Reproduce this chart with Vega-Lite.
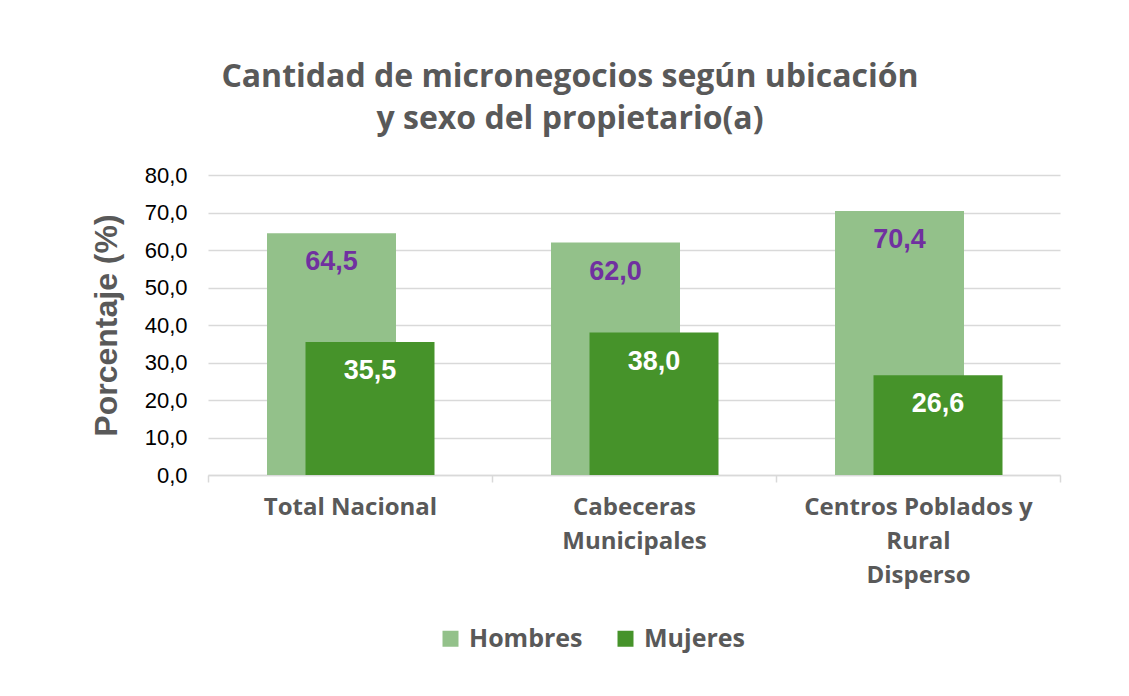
{
  "$schema": "https://vega.github.io/schema/vega-lite/v6.json",
  "width": 852,
  "height": 300,
  "autosize": {"type": "none"},
  "padding": {"left": 208, "top": 175, "right": 69, "bottom": 221},
  "background": "white",
  "title": {
    "text": ["Cantidad de micronegocios según ubicación", "y sexo del propietario(a)"],
    "font": "Open Sans",
    "fontSize": 32,
    "fontWeight": "bold",
    "color": "#595959",
    "lineHeight": 42,
    "anchor": "middle",
    "dx": -64,
    "offset": 28
  },
  "data": {
    "values": [
      {"ubicacion": "Total Nacional", "sexo": "Hombres", "valor": 64.5},
      {"ubicacion": "Total Nacional", "sexo": "Mujeres", "valor": 35.5},
      {"ubicacion": "Cabeceras Municipales", "sexo": "Hombres", "valor": 62.0},
      {"ubicacion": "Cabeceras Municipales", "sexo": "Mujeres", "valor": 38.0},
      {"ubicacion": "Centros Poblados y Rural Disperso", "sexo": "Hombres", "valor": 70.4},
      {"ubicacion": "Centros Poblados y Rural Disperso", "sexo": "Mujeres", "valor": 26.6}
    ]
  },
  "encoding": {
    "x": {
      "field": "ubicacion",
      "type": "nominal",
      "sort": null,
      "scale": {"paddingInner": 0, "paddingOuter": 0},
      "axis": {
        "title": null,
        "labelAngle": 0,
        "labelFont": "Open Sans",
        "labelFontSize": 24,
        "labelFontWeight": "bold",
        "labelColor": "#595959",
        "labelLineHeight": 34,
        "labelPadding": 13,
        "labelBaseline": "top",
        "labelLimit": 0,
        "labelExpr": "datum.value == 'Cabeceras Municipales' ? ['Cabeceras', 'Municipales'] : datum.value == 'Centros Poblados y Rural Disperso' ? ['Centros Poblados y', 'Rural', 'Disperso'] : datum.value",
        "domainColor": "#d9d9d9",
        "domainWidth": 1.5,
        "tickColor": "#d9d9d9",
        "tickWidth": 1.5,
        "tickSize": 7,
        "tickBand": "extent",
        "grid": false
      }
    },
    "y": {
      "field": "valor",
      "type": "quantitative",
      "scale": {"domain": [0, 80], "nice": false},
      "axis": {
        "title": "Porcentaje (%)",
        "titleFont": "Liberation Sans",
        "titleFontSize": 32,
        "titleFontWeight": "bold",
        "titleColor": "#595959",
        "titlePadding": 21,
        "values": [0, 10, 20, 30, 40, 50, 60, 70, 80],
        "format": ".1f",
        "labelFont": "Liberation Sans",
        "labelFontSize": 22,
        "labelColor": "#000000",
        "labelPadding": 21,
        "ticks": false,
        "domain": false,
        "grid": true,
        "gridColor": "#d9d9d9",
        "gridWidth": 1.5
      }
    }
  },
  "layer": [
    {
      "transform": [{"filter": "datum.sexo == 'Hombres'"}],
      "mark": {"type": "bar", "width": 129, "xOffset": -18.5},
      "encoding": {
        "color": {
          "field": "sexo",
          "type": "nominal",
          "scale": {"domain": ["Hombres", "Mujeres"], "range": ["#93c18a", "#46932a"]},
          "legend": {
            "title": null,
            "orient": "none",
            "direction": "horizontal",
            "legendX": 230,
            "legendY": 451,
            "symbolType": "square",
            "symbolSize": 256,
            "symbolStrokeWidth": 0,
            "labelFont": "Open Sans",
            "labelFontSize": 25,
            "labelFontWeight": "bold",
            "labelColor": "#595959",
            "labelOffset": 6,
            "columnPadding": 30
          }
        }
      }
    },
    {
      "transform": [{"filter": "datum.sexo == 'Mujeres'"}],
      "mark": {"type": "bar", "width": 129, "xOffset": 20},
      "encoding": {
        "color": {"field": "sexo", "type": "nominal"}
      }
    },
    {
      "transform": [{"filter": "datum.sexo == 'Hombres'"}],
      "mark": {"type": "text", "xOffset": -18.5, "dy": 29, "baseline": "middle", "align": "center", "font": "Liberation Sans", "fontSize": 27, "fontWeight": "bold", "color": "#7030a0"},
      "encoding": {
        "text": {"field": "valor", "type": "quantitative", "format": ".1f"}
      }
    },
    {
      "transform": [{"filter": "datum.sexo == 'Mujeres'"}],
      "mark": {"type": "text", "xOffset": 20, "dy": 29, "baseline": "middle", "align": "center", "font": "Liberation Sans", "fontSize": 27, "fontWeight": "bold", "color": "#ffffff"},
      "encoding": {
        "text": {"field": "valor", "type": "quantitative", "format": ".1f"}
      }
    }
  ],
  "config": {
    "view": {"stroke": null},
    "locale": {
      "number": {"decimal": ",", "thousands": ".", "grouping": [3], "currency": ["", " $"]}
    }
  }
}
